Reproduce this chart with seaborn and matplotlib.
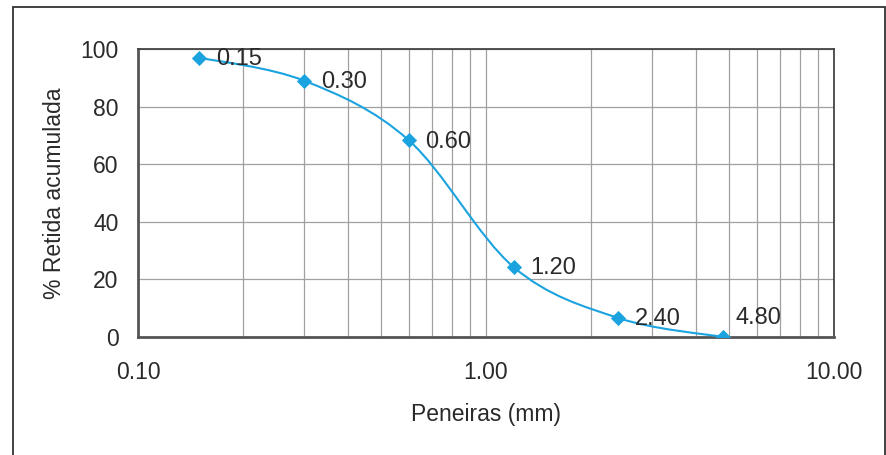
import numpy as np
import matplotlib
matplotlib.use('Agg')
from matplotlib import pyplot as plt
from matplotlib.path import Path
from matplotlib.patches import PathPatch, Rectangle
from matplotlib.ticker import FixedLocator, NullFormatter, LogLocator
import seaborn as sns

# dados da curva granulometrica
peneiras = [0.15, 0.30, 0.60, 1.20, 2.40, 4.80]
retida = [97, 89, 68.3, 24.3, 6.6, 0]
rotulos = ['0.15', '0.30', '0.60', '1.20', '2.40', '4.80']
xticks = [0.1, 1.0, 10.0]
xticklabels = ['0.10', '1.00', '10.00']
yticks = [0, 20, 40, 60, 80, 100]

azul = '#1ba3e0'
texto = '#2a2a2a'

sns.set_style('white')
plt.rcParams['font.family'] = ['Liberation Sans', 'DejaVu Sans']

fig = plt.figure(figsize=(8.86, 4.55), dpi=100)
ax = fig.add_axes([0.1558, 0.2593, 0.9413 - 0.1558, 0.8923 - 0.2593])

# moldura externa
fig.patches.append(Rectangle((13/886, -0.02), 872/886, 1.02 - 7/455,
                             transform=fig.transFigure, fill=False,
                             edgecolor='#333333', linewidth=1.3))

ax.set_xscale('log')
ax.set_xlim(0.1, 10)
ax.set_ylim(0, 100)

# curva suavizada (bezier estilo excel) em espaco log-x
lx = np.log10(peneiras)
yy = np.array(retida, dtype=float)
pts = np.column_stack([lx, yy])
ext = np.vstack([pts[0], pts, pts[-1]])
verts = [pts[0]]
codes = [Path.MOVETO]
for i in range(len(pts) - 1):
    p0, p1, p2, p3 = ext[i], ext[i + 1], ext[i + 2], ext[i + 3]
    c1 = p1 + (p2 - p0) / 6
    c2 = p2 - (p3 - p1) / 6
    verts += [c1, c2, p2]
    codes += [Path.CURVE4] * 3
verts = np.array(verts)
verts[:, 0] = 10 ** verts[:, 0]
ax.add_patch(PathPatch(Path(verts, codes), facecolor='none', edgecolor=azul,
                       linewidth=1.5, zorder=3))

sns.scatterplot(x=peneiras, y=retida, marker='D', s=60, color=azul,
                edgecolor=azul, linewidth=0, ax=ax, zorder=4)

for x, y, r in zip(peneiras, retida, rotulos):
    off = (9, 14) if r == '4.80' else (12, -1)
    ax.annotate(r, (x, y), xytext=off, textcoords='offset points',
                fontsize=17, color=texto, va='center', ha='left')

# grade
ax.xaxis.set_major_locator(FixedLocator(xticks))
ax.set_xticklabels(xticklabels)
ax.xaxis.set_minor_locator(LogLocator(base=10, subs=np.arange(2, 10)))
ax.xaxis.set_minor_formatter(NullFormatter())
ax.set_yticks(yticks)
ax.grid(True, which='both', axis='x', color='#a0a0a0', linewidth=0.9)
ax.grid(True, which='major', axis='y', color='#a0a0a0', linewidth=0.9)
ax.set_axisbelow(True)

for s in ['left', 'bottom']:
    ax.spines[s].set_color('#555555')
    ax.spines[s].set_linewidth(2.0)
for s in ['top', 'right']:
    ax.spines[s].set_color('#444444')
    ax.spines[s].set_linewidth(1.3)

ax.tick_params(axis='both', which='major', labelsize=16.5, labelcolor=texto,
               color='#aaaaaa', length=5, width=1, direction='out')
ax.tick_params(axis='x', which='minor', length=0)
ax.tick_params(axis='x', which='major', pad=12)
ax.tick_params(axis='y', which='major', pad=9)

ax.set_xlabel('Peneiras (mm)', fontsize=16.5, color=texto, labelpad=14)
ax.set_ylabel('% Retida acumulada', fontsize=16.5, color=texto, labelpad=10)

plt.savefig('out.png', dpi=100)
